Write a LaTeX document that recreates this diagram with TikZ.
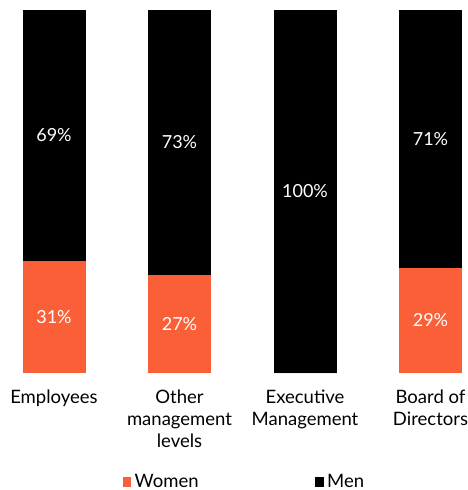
\documentclass[tikz,border=0pt]{standalone}
\usepackage{fontspec}
\setmainfont{Lato}
\definecolor{wom}{HTML}{FA5F37}
\begin{document}
\begin{tikzpicture}[x=1pt,y=-1pt,
  pct/.style={text=white,font=\fontsize{18}{21}\selectfont},
  cat/.style={align=center,font=\fontsize{18.5}{22}\selectfont,anchor=north,inner sep=0pt},
  leg/.style={font=\fontsize{18.5}{21}\selectfont,anchor=base west,inner sep=0pt,text depth=0pt}]
\useasboundingbox (0,0) rectangle (467,490);
\foreach \x/\b/\m/\w [count=\i] in {22.5/260.5/69\%/31\%, 148/275/73\%/27\%, 273.5/373/100\%/, 399/267.7/71\%/29\%}{
  \fill[black] (\x,10) rectangle (\x+63,\b);
  \fill[wom] (\x,\b) rectangle (\x+63,373);
  \node[pct] (m\i) at (\x+31.5,{(10+\b)/2}) {\m};
  \node[pct] (w\i) at (\x+31.5,{(\b+373)/2}) {\w};
}
\node[cat] (c1) at (54,390) {Employees};
\node[cat] (c2) at (179.5,390) {Other\\management\\levels};
\node[cat] (c3) at (305,390) {Executive\\Management};
\node[cat] (c4) at (430.5,390) {Board of\\Directors};
\fill[wom] (122.5,477) rectangle (131,487);
\node[leg] (lw) at (134.5,487) {Women};
\fill[black] (315,477) rectangle (324,487);
\node[leg] (lm) at (327,487) {Men};
\end{tikzpicture}
\end{document}
